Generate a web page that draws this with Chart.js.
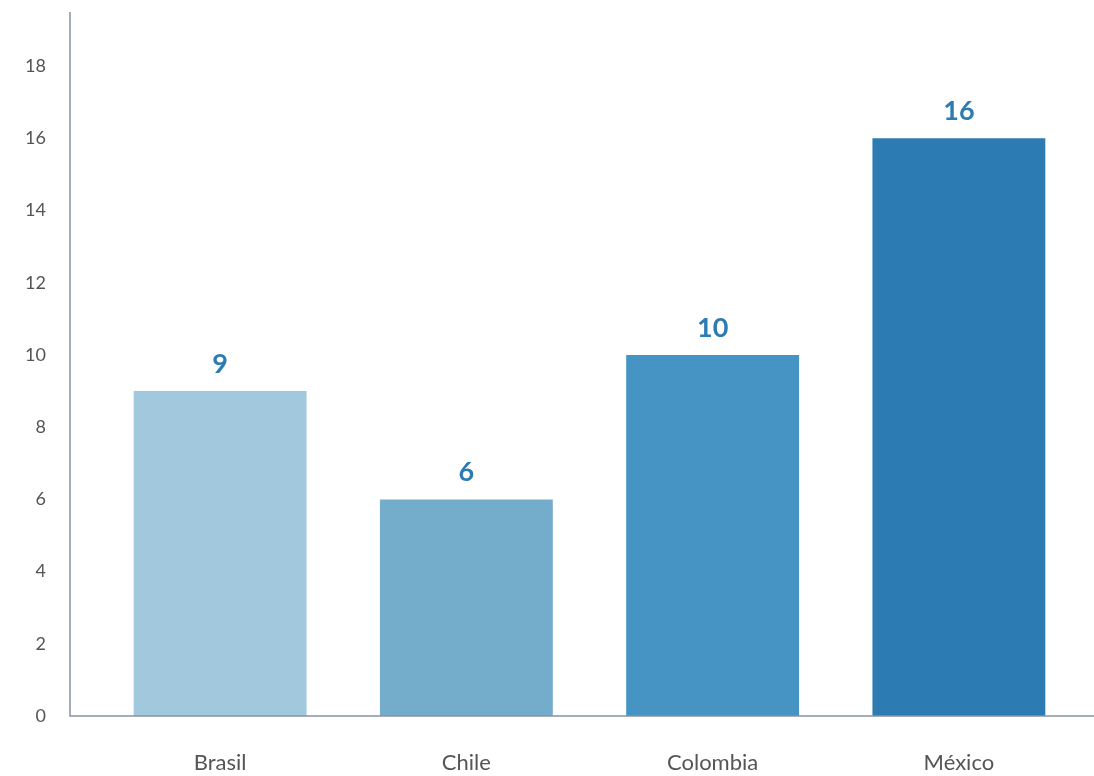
<!DOCTYPE html>
<html>
<head>
<meta charset="utf-8">
<script src="https://cdn.jsdelivr.net/npm/chart.js@4"></script>
<style>
  html, body { margin: 0; padding: 0; background: #fff; }
  #wrap { width: 1094px; height: 776px; }
</style>
</head>
<body>
<div id="wrap"><canvas id="paisesChart" width="1094" height="776"></canvas></div>
<script>
// data
const paises = ["Brasil", "Chile", "Colombia", "México"];
const valores = [9, 6, 10, 16];
const colores = ["#A1C8DC", "#74ADCB", "#4594C4", "#2D7BB3"];
const yTicks = [0, 2, 4, 6, 8, 10, 12, 14, 16, 18];

const axisColor = "#8A939C";
const labelColor = "#2D7BB3";

// axis lines sit a bit left of the plot area, like the original
const axisLines = {
  id: "axisLines",
  afterDraw(chart) {
    const { ctx, chartArea, scales } = chart;
    const x0 = chartArea.left - 27;
    const yBase = scales.y.getPixelForValue(0);
    ctx.save();
    ctx.strokeStyle = axisColor;
    ctx.lineWidth = 1.5;
    ctx.beginPath();
    ctx.moveTo(x0, chartArea.top);
    ctx.lineTo(x0, yBase);
    ctx.lineTo(chart.width, yBase);
    ctx.stroke();
    ctx.restore();
  },
};

// value labels above the bars
const valueLabels = {
  id: "valueLabels",
  afterDatasetsDraw(chart) {
    const { ctx } = chart;
    const meta = chart.getDatasetMeta(0);
    ctx.save();
    ctx.fillStyle = labelColor;
    ctx.font = "bold 27px Lato, 'Open Sans', sans-serif";
    ctx.textAlign = "center";
    ctx.textBaseline = "alphabetic";
    meta.data.forEach((bar, i) => {
      ctx.fillText(String(valores[i]), bar.x, bar.y - 18);
    });
    ctx.restore();
  },
};

new Chart(document.getElementById("paisesChart"), {
  type: "bar",
  data: {
    labels: paises,
    datasets: [
      {
        data: valores,
        backgroundColor: colores,
        borderWidth: 0,
        barPercentage: 0.78,
        categoryPercentage: 0.9,
      },
    ],
  },
  options: {
    responsive: false,
    animation: false,
    layout: { padding: { left: 24, right: 12, top: 12, bottom: 0 } },
    plugins: {
      legend: { display: false },
      tooltip: { enabled: false },
    },
    scales: {
      x: {
        grid: { display: false, drawTicks: false },
        border: { display: false },
        afterFit(scale) {
          scale.height = 60;
          scale.paddingLeft = 0;
          scale.paddingRight = 0;
        },
        ticks: {
          color: "#555",
          padding: 34,
          maxRotation: 0,
          font: { family: "Lato, 'Open Sans', sans-serif", size: 22 },
        },
      },
      y: {
        min: 0,
        max: 19.5,
        grid: { display: false, drawTicks: false },
        border: { display: false },
        afterBuildTicks(scale) {
          scale.ticks = yTicks.map((v) => ({ value: v }));
        },
        afterFit(scale) {
          scale.width = 73;
          scale.paddingTop = 0;
          scale.paddingBottom = 0;
        },
        ticks: {
          color: "#555",
          padding: 51,
          font: { family: "Lato, 'Open Sans', sans-serif", size: 18 },
        },
      },
    },
  },
  plugins: [axisLines, valueLabels],
});
</script>
</body>
</html>
